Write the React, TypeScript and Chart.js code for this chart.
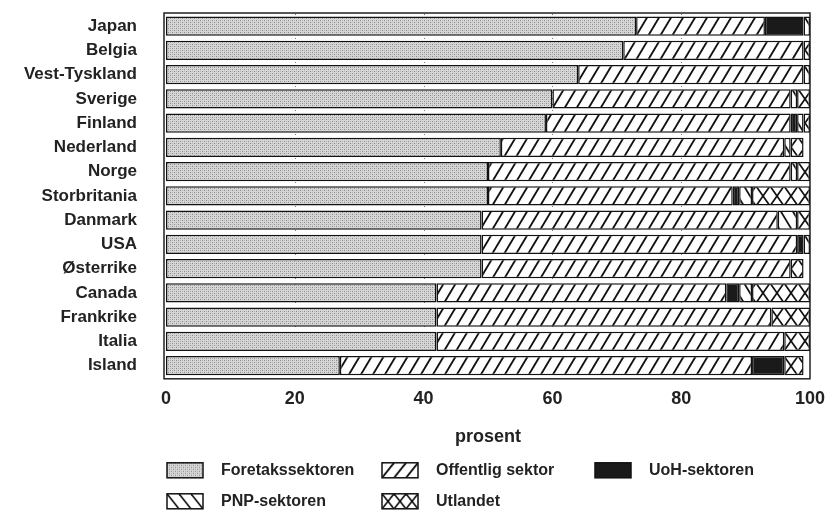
import React, { useEffect, useRef } from 'react';
import { Chart, registerables } from 'chart.js';

Chart.register(...registerables);

const countries = ['Japan', 'Belgia', 'Vest-Tyskland', 'Sverige', 'Finland', 'Nederland', 'Norge', 'Storbritania', 'Danmark', 'USA', 'Østerrike', 'Canada', 'Frankrike', 'Italia', 'Island'];
const foretak = [73, 71, 64, 60, 59, 52, 50, 50, 49, 49, 49, 42, 42, 42, 27];
const offentlig = [20, 28, 35, 37, 38, 44, 47, 38, 46, 49, 48, 45, 52, 54, 64];
const uoh = [6, 0, 0, 0, 1, 0, 0, 1, 0, 1, 0, 2, 0, 0, 5];
const pnp = [1, 0, 1, 1, 1, 1, 1, 2, 3, 1, 0, 2, 0, 0, 0];
const utlandet = [0, 1, 0, 2, 1, 2, 2, 9, 2, 0, 2, 9, 6, 4, 3];
const seriesNames = ['Foretakssektoren', 'Offentlig sektor', 'UoH-sektoren', 'PNP-sektoren', 'Utlandet'];
const xTickValues = [0, 20, 40, 60, 80, 100];
const axisTitle = 'prosent';

type TileFn = (c: CanvasRenderingContext2D, w: number, h: number) => void;

function tileCanvas(w: number, h: number, draw: TileFn): HTMLCanvasElement {
  const cv = document.createElement('canvas');
  cv.width = w;
  cv.height = h;
  const c = cv.getContext('2d');
  if (c) draw(c, w, h);
  return cv;
}

const drawDots: TileFn = (c, w, h) => {
  c.fillStyle = '#d6d6d6';
  c.fillRect(0, 0, w, h);
  c.fillStyle = '#8a8a8a';
  c.fillRect(0, 0, 1, 1);
  c.fillRect(2, 2, 1, 1);
  c.fillStyle = '#b4b4b4';
  c.fillRect(2, 0, 1, 1);
  c.fillRect(0, 2, 1, 1);
};

const drawSlash: TileFn = (c, w, h) => {
  c.fillStyle = '#ffffff';
  c.fillRect(0, 0, w, h);
  c.strokeStyle = '#111';
  c.lineWidth = 1.9;
  for (const x0 of [-w, 0, w]) {
    c.beginPath();
    c.moveTo(x0, h);
    c.lineTo(x0 + w, 0);
    c.stroke();
  }
};

const drawBack: TileFn = (c, w, h) => {
  c.fillStyle = '#ffffff';
  c.fillRect(0, 0, w, h);
  c.strokeStyle = '#111';
  c.lineWidth = 1.7;
  for (const x0 of [-w, 0, w]) {
    c.beginPath();
    c.moveTo(x0, 0);
    c.lineTo(x0 + w, h);
    c.stroke();
  }
};

const drawCross: TileFn = (c, w, h) => {
  c.fillStyle = '#ffffff';
  c.fillRect(0, 0, w, h);
  c.strokeStyle = '#111';
  c.lineWidth = 1.7;
  for (const x0 of [-w, 0, w]) {
    c.beginPath();
    c.moveTo(x0, h);
    c.lineTo(x0 + w, 0);
    c.stroke();
    c.beginPath();
    c.moveTo(x0, 0);
    c.lineTo(x0 + w, h);
    c.stroke();
  }
};

export default function App() {
  const ref = useRef<HTMLCanvasElement | null>(null);

  useEffect(() => {
    if (!ref.current) return;
    const ctx0 = ref.current.getContext('2d') as CanvasRenderingContext2D;
    const values = [foretak, offentlig, uoh, pnp, utlandet];
    const font = 'Liberation Sans, Arial, Helvetica, sans-serif';

    const barTiles: (HTMLCanvasElement | string)[] = [
      tileCanvas(4, 4, drawDots),
      tileCanvas(12, 20, drawSlash),
      '#1a1a1a',
      tileCanvas(12, 20, drawBack),
      tileCanvas(14, 20, drawCross),
    ];
    const legendTiles: (HTMLCanvasElement | string)[] = [
      tileCanvas(4, 4, drawDots),
      tileCanvas(12, 15, drawSlash),
      '#1a1a1a',
      tileCanvas(12, 15, drawBack),
      tileCanvas(12, 15, drawCross),
    ];
    const cache: Record<string, CanvasPattern> = {};

    const fillFor = (series: number) => (c: any) => {
      const t = barTiles[series];
      if (typeof t === 'string') return t;
      const yScale = c.chart && c.chart.scales ? c.chart.scales.y : null;
      const key = series + ':' + c.dataIndex;
      let p = cache[key];
      if (!p) {
        p = ctx0.createPattern(t, 'repeat') as CanvasPattern;
        cache[key] = p;
      }
      if (yScale && typeof c.dataIndex === 'number') {
        const center = yScale.getPixelForValue(c.dataIndex);
        const top = Math.round(center - 10);
        try {
          p.setTransform(new DOMMatrix().translate(0, top));
        } catch (e) {
          /* ignore */
        }
      }
      return p;
    };

    const framePlugin = {
      id: 'frameAndGrid',
      beforeDatasetsDraw(chart: any) {
        const { ctx, chartArea } = chart;
        const xs = chart.scales.x;
        ctx.save();
        ctx.strokeStyle = '#777';
        ctx.lineWidth = 1;
        ctx.setLineDash([1, 5]);
        for (const v of xTickValues.slice(1, -1)) {
          const px = Math.round(xs.getPixelForValue(v)) + 0.5;
          ctx.beginPath();
          ctx.moveTo(px, chartArea.top);
          ctx.lineTo(px, chartArea.bottom);
          ctx.stroke();
        }
        ctx.restore();
      },
      afterDatasetsDraw(chart: any) {
        const { ctx, chartArea } = chart;
        ctx.save();
        ctx.strokeStyle = '#222';
        ctx.lineWidth = 1.5;
        ctx.strokeRect(chartArea.left - 2, chartArea.top - 1, chartArea.right - chartArea.left + 2, chartArea.bottom - chartArea.top + 2);
        ctx.restore();
      },
    };

    const legendPlugin = {
      id: 'gridLegend',
      afterDraw(chart: any) {
        const { ctx, chartArea } = chart;
        const colX = [0, 215, 428];
        const rowY = [chartArea.bottom + 85, chartArea.bottom + 116];
        ctx.save();
        seriesNames.forEach((name, i) => {
          const col = i < 3 ? i : i - 3;
          const row = i < 3 ? 0 : 1;
          const x = chartArea.left + 1 + colX[col];
          const y = rowY[row];
          const t = legendTiles[i];
          let fill: any = t;
          if (typeof t !== 'string') {
            fill = ctx.createPattern(t, 'repeat');
            try {
              fill.setTransform(new DOMMatrix().translate(x, y));
            } catch (e) {
              /* ignore */
            }
          }
          ctx.fillStyle = fill;
          ctx.fillRect(x, y, 36, 15);
          ctx.strokeStyle = '#111';
          ctx.lineWidth = 1.5;
          ctx.strokeRect(x, y, 36, 15);
          ctx.fillStyle = '#222';
          ctx.font = 'bold 16px ' + font;
          ctx.textBaseline = 'middle';
          ctx.textAlign = 'left';
          ctx.fillText(name, x + 54, y + 8);
        });
        ctx.restore();
      },
    };

    const chart = new Chart(ref.current, {
      type: 'bar',
      data: {
        labels: countries,
        datasets: values.map((v, i) => ({
          label: seriesNames[i],
          data: v,
          backgroundColor: fillFor(i),
          borderColor: '#111',
          borderWidth: 1.5,
          borderSkipped: false,
          barPercentage: 0.8,
          categoryPercentage: 1,
        })),
      },
      options: {
        indexAxis: 'y',
        responsive: false,
        animation: false,
        layout: { autoPadding: false, padding: { left: 0, right: 17, top: 14, bottom: 73 } },
        plugins: {
          legend: { display: false },
          tooltip: { enabled: false },
        },
        scales: {
          x: {
            stacked: true,
            min: 0,
            max: 100,
            afterBuildTicks: (scale: any) => {
              scale.ticks = xTickValues.map((v) => ({ value: v }));
            },
            afterFit: (scale: any) => {
              scale.paddingLeft = 0;
              scale.paddingRight = 0;
            },
            grid: { display: false, drawTicks: false },
            border: { display: false },
            ticks: {
              padding: 10,
              color: '#222',
              font: { family: font, size: 18, weight: 'bold' },
            },
            title: {
              display: true,
              text: axisTitle,
              color: '#222',
              padding: { top: 7, bottom: 0 },
              font: { family: font, size: 18, weight: 'bold' },
            },
          },
          y: {
            stacked: true,
            afterFit: (scale: any) => {
              scale.width = 166;
              scale.paddingTop = 0;
              scale.paddingBottom = 0;
            },
            grid: { display: false, drawTicks: false },
            border: { display: false },
            ticks: {
              padding: 29,
              color: '#222',
              autoSkip: false,
              font: { family: font, size: 17, weight: 'bold' },
            },
          },
        },
      },
      plugins: [framePlugin, legendPlugin],
    } as any);

    return () => {
      chart.destroy();
    };
  }, []);

  return (
    <div style={{ position: 'absolute', left: 0, top: 0, width: 827, height: 521, background: '#fff' }}>
      <canvas ref={ref} width={827} height={521} style={{ display: 'block' }} />
    </div>
  );
}
